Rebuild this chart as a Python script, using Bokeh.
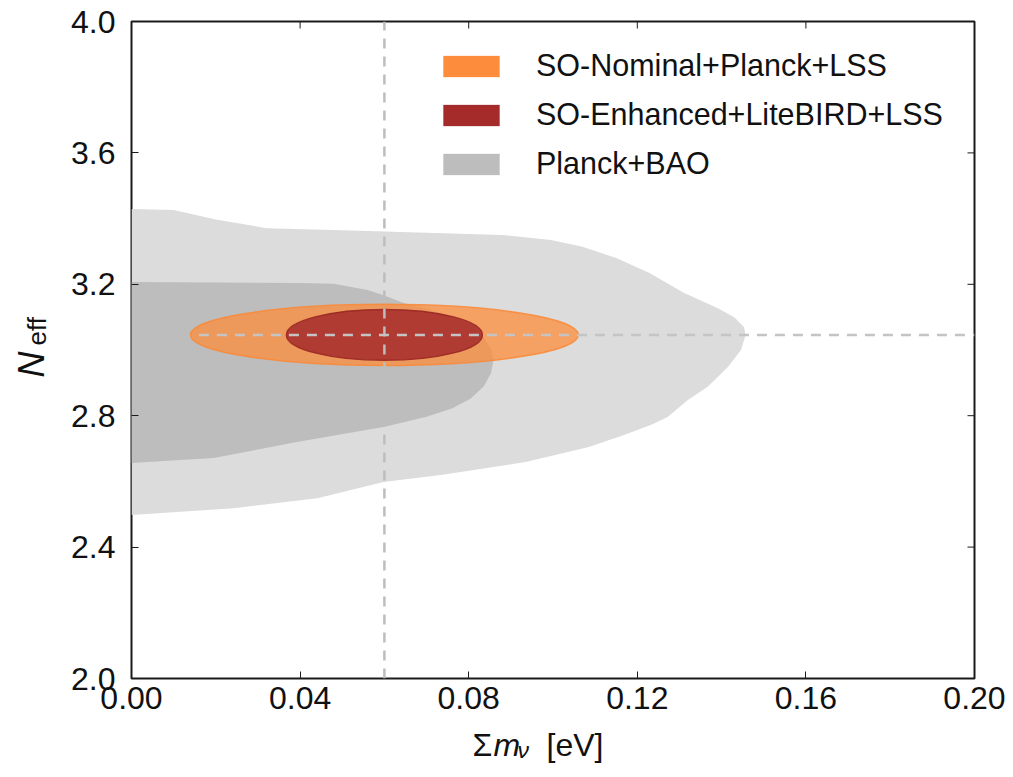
import math
from bokeh.plotting import figure
from bokeh.layouts import row, column
from bokeh.models import (ColumnDataSource, FixedTicker, LinearAxis, Legend, LegendItem,
                          Label, Range1d)
from bokeh.embed import file_html
from bokeh.resources import INLINE

# ---------------- data ----------------
# Planck+BAO outer (95%) contour
outer_x = [0.0, 0.010, 0.020, 0.032, 0.048, 0.064, 0.088, 0.0995, 0.107, 0.115, 0.123,
           0.131, 0.139, 0.143, 0.1453, 0.1457, 0.1446, 0.1415, 0.1367, 0.132, 0.1272,
           0.1232, 0.1165, 0.1085, 0.0935, 0.0738, 0.0598, 0.0441, 0.0242, 0.0]
outer_y = [3.429, 3.426, 3.397, 3.371, 3.365, 3.359, 3.350, 3.335, 3.314, 3.280, 3.234,
           3.174, 3.128, 3.100, 3.070, 3.046, 3.000, 2.948, 2.888, 2.848, 2.796,
           2.772, 2.740, 2.705, 2.659, 2.620, 2.598, 2.549, 2.518, 2.498]
# Planck+BAO inner (68%) contour
inner_x = [0.0, 0.040, 0.048, 0.056, 0.0598, 0.0646, 0.0705, 0.0764, 0.0805, 0.0836,
           0.0852, 0.0859, 0.0853, 0.0836, 0.0805, 0.0760, 0.0700, 0.0601, 0.0392,
           0.0195, 0.0]
inner_y = [3.207, 3.204, 3.202, 3.183, 3.167, 3.143, 3.125, 3.100, 3.070, 3.039,
           3.005, 2.970, 2.930, 2.890, 2.852, 2.822, 2.797, 2.766, 2.720,
           2.671, 2.656]

# forecast ellipses (centre, full width, full height)
fid_mnu = 0.06
fid_neff = 3.046
so_nominal_w = 0.092
so_nominal_h = 0.186
so_enhanced_w = 0.0465
so_enhanced_h = 0.155
hline_start = 0.016

labels = ["SO-Nominal+Planck+LSS", "SO-Enhanced+LiteBIRD+LSS", "Planck+BAO"]
legend_colors = ["#fd8d3c", "#a52a2a", "#bdbdbd"]

x_ticks = [0.0, 0.04, 0.08, 0.12, 0.16, 0.20]
x_tick_labels = ["0.00", "0.04", "0.08", "0.12", "0.16", "0.20"]
y_ticks = [2.0, 2.4, 2.8, 3.2, 3.6, 4.0]
y_tick_labels = ["2.0", "2.4", "2.8", "3.2", "3.6", "4.0"]

FONT = "Liberation Sans"
TXT = "#111111"
TICK = "#1a1a1a"

TOTAL_W, TOTAL_H = 1013, 777
YLAB_W = 60
MAIN_H = 724

# ---------------- main figure ----------------
p = figure(width=TOTAL_W - YLAB_W, height=MAIN_H, output_backend="svg", toolbar_location=None,
           x_range=Range1d(0.0, 0.2), y_range=Range1d(2.0, 4.0),
           x_axis_type=None, y_axis_type=None)
p.min_border_left = 71
p.min_border_right = 39
p.min_border_top = 21
p.min_border_bottom = 46
p.outline_line_color = TICK
p.outline_line_width = 2
p.background_fill_color = "white"
p.border_fill_color = "white"


def make_axis(ticks, tick_labels, standoff):
    ax = LinearAxis(ticker=FixedTicker(ticks=ticks))
    ax.major_label_overrides = {t: l for t, l in zip(ticks, tick_labels)}
    ax.axis_line_color = None
    ax.major_tick_in = 7
    ax.major_tick_out = 0
    ax.minor_tick_line_color = None
    ax.major_tick_line_color = TICK
    ax.major_tick_line_width = 1
    ax.major_label_text_font = FONT
    ax.major_label_text_font_size = "32px"
    ax.major_label_text_color = TXT
    ax.major_label_standoff = standoff
    return ax


p.add_layout(make_axis(x_ticks, x_tick_labels, 8), "below")
p.add_layout(make_axis(y_ticks, y_tick_labels, 16), "left")

# ---------------- contours ----------------
p.patch(outer_x, outer_y, fill_color="#dcdcdc", line_color=None)
p.patch(inner_x, inner_y, fill_color="#bdbdbd", line_color=None)

p.ellipse(x=fid_mnu, y=fid_neff, width=so_nominal_w, height=so_nominal_h,
          fill_color="#fd8d3c", fill_alpha=0.75, line_color="#f98a3a",
          line_width=1.5, line_alpha=0.9)
p.ellipse(x=fid_mnu, y=fid_neff, width=so_enhanced_w, height=so_enhanced_h,
          fill_color="#a52a2a", fill_alpha=0.85, line_color="#9a2824",
          line_width=1.5, line_alpha=0.9)

# fiducial lines
p.segment(x0=[fid_mnu], y0=[2.0], x1=[fid_mnu], y1=[4.0], line_color="#bdbdbd",
          line_width=2.5, line_dash="10 8")
p.segment(x0=[hline_start], y0=[fid_neff], x1=[0.2], y1=[fid_neff], line_color="#c4c4c4",
          line_width=2.5, line_dash="10 8")

# inward ticks on the top and right edges (same tick values as the axes)
p.ray(x=x_ticks, y=[y_ticks[-1]] * len(x_ticks), length=7, length_units="screen",
      angle=-math.pi / 2, line_color=TICK, line_width=1)
p.ray(x=[x_ticks[-1]] * len(y_ticks), y=y_ticks, length=7, length_units="screen",
      angle=math.pi, line_color=TICK, line_width=1)

# legend proxies (opaque colours, nothing drawn in the frame)
proxies = []
for c in legend_colors:
    src = ColumnDataSource(dict(x=[float("nan")], y=[float("nan")]))
    proxies.append(p.rect(x="x", y="y", width=0.01, height=0.01, source=src,
                          fill_color=c, line_color=c, line_alpha=0.35))

legend = Legend(items=[LegendItem(label=lab, renderers=[r]) for lab, r in zip(labels, proxies)],
                location=(305, 497), padding=0, margin=0, spacing=14,
                glyph_width=70, glyph_height=26, label_height=26, label_standoff=30,
                label_text_font=FONT, label_text_font_size="30.5px",
                label_text_color=TXT,
                background_fill_alpha=0, border_line_alpha=0)
p.add_layout(legend, "center")


def blank(w, h):
    f = figure(width=w, height=h, output_backend="svg", toolbar_location=None,
               x_axis_type=None, y_axis_type=None, min_border=0)
    f.outline_line_color = None
    f.background_fill_color = "white"
    f.border_fill_color = "white"
    return f


def lab(f, text, x, y, size, style="normal", angle=0.0):
    f.add_layout(Label(x=x, y=y, x_units="screen", y_units="screen", text=text,
                       text_font=FONT, text_font_size=size, text_font_style=style,
                       text_color=TXT, angle=angle, text_align="left",
                       text_baseline="alphabetic"))


# ---------------- y label: N_eff ----------------
yfig = blank(YLAB_W, TOTAL_H)
lab(yfig, "N", 31, 400, "36px", "italic", math.pi / 2)
lab(yfig, "eff", 36, 432, "26px", "normal", math.pi / 2)

# ---------------- x label: Σ m_ν [eV] ----------------
xfig = blank(TOTAL_W - YLAB_W, TOTAL_H - MAIN_H)
lab(xfig, "Σ", 341, 33, "32px")
lab(xfig, "m", 362, 33, "32px", "italic")
lab(xfig, "ν", 386, 28, "23px", "italic")
lab(xfig, "[eV]", 415, 33, "32px")

layout = row(yfig, column(p, xfig, spacing=0), spacing=0)
open("out.html", "w").write(file_html(layout, INLINE))
